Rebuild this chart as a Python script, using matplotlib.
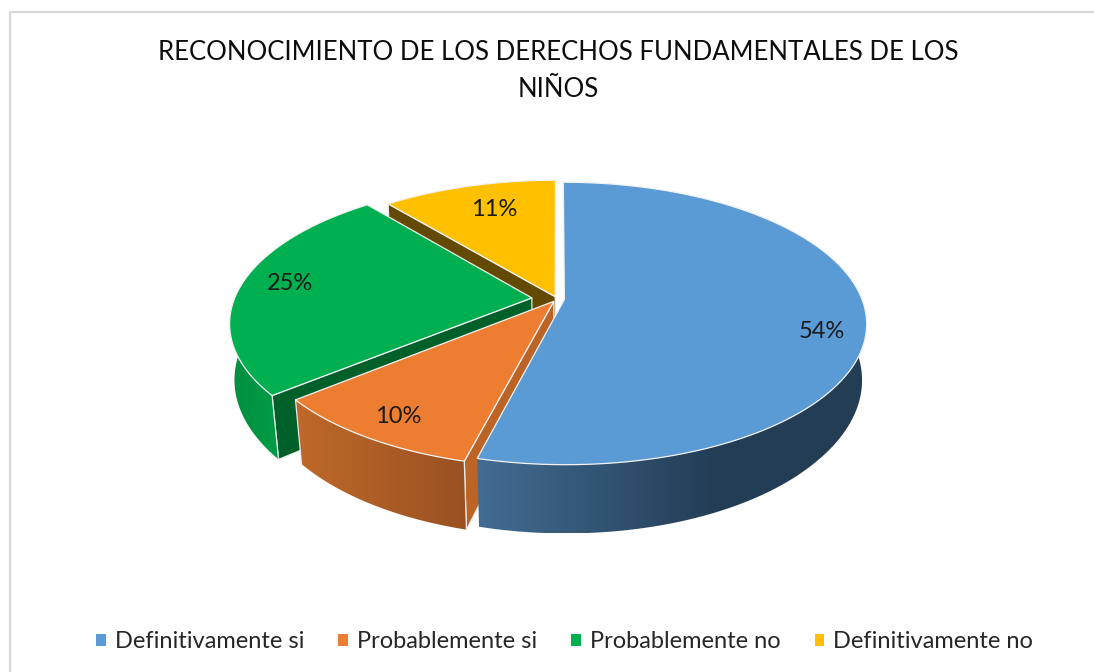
#!/usr/bin/env python3
# 3D looking pie, matplotlib has none so the projection is done by hand
import numpy as np
import matplotlib.pyplot as plt
from matplotlib.patches import Polygon, Patch
from matplotlib.colors import to_rgb

plt.rcParams['font.family'] = ['Lato', 'DejaVu Sans']

#%% data
title = "RECONOCIMIENTO DE LOS DERECHOS FUNDAMENTALES DE LOS\nNIÑOS"
categories = ['Definitivamente si', 'Probablemente si', 'Probablemente no', 'Definitivamente no']
values = [54, 10, 25, 11]

#%% styles
top_colors = ['#5B9BD5', '#ED7D31', '#00B050', '#FFC000']
radial_colors = [None, '#BC6426', '#00602A', '#634A00']
wall_left = ['#436C93', '#BF692B', '#008F40', '#997300']
wall_right = ['#233D55', '#9A5121', '#009C46', '#997300']
explode = [0.025, 0.02, 0.085, 0.018]
label_angle = [105, 212, 277, 342]
label_radius = [0.885, 0.88, 0.92, 0.77]

# projection of the ground plane to pixels
cx, cy = 557, 299
a, b = 297.5, 137
k = 0.17
depth = 57
shrink_front, shrink_side = 0.977, 0.988
seam = '#E8E8E8'


def top_xy(u, v):
    s = 1 / (1 + k * v)
    return cx + a * u * s, cy - b * v * s


def bottom_xy(u, v):
    s = 1 / (1 + k * v)
    shrink = shrink_front + (shrink_side - shrink_front) * np.clip(1 + v / 0.65, 0, 1)
    return cx + shrink * a * u * s, cy - b * v * s + depth * s


#%% figure
fig = plt.figure(figsize=(10.94, 6.72), dpi=100)
ax = fig.add_axes([0, 0, 1, 1])
ax.set_xlim(0, 1094)
ax.set_ylim(672, 0)
ax.set_autoscale_on(False)
ax.axis('off')

# frame of the chart, only left and top show up in the crop
ax.plot([9.5, 9.5, 1100], [680, 11.5, 11.5], color='#D9D9D9', lw=1.6)

ax.text(558.5, 71, title, ha='center', va='center', fontsize=18.55,
        color='#0D0D0D', linespacing=1.57)

fractions = np.array(values) / sum(values)
stops = np.concatenate([[0], np.cumsum(fractions)]) * 2 * np.pi

# painted back to front, images need an explicit zorder to stay in that order
z = 3
for i in [3, 2, 1, 0]:
    t0, t1 = stops[i], stops[i + 1]
    mid = (t0 + t1) / 2
    ou, ov = explode[i] * np.sin(mid), explode[i] * np.cos(mid)
    theta = np.linspace(t0, t1, 200)
    u = ou + np.sin(theta)
    v = ov + np.cos(theta)

    # radial wall facing the viewer
    if radial_colors[i] is not None:
        pts = [top_xy(ou, ov), top_xy(u[0], v[0]), bottom_xy(u[0], v[0]), bottom_xy(ou, ov)]
        ax.add_patch(Polygon(pts, closed=True, fc=radial_colors[i], ec=seam, lw=0.9, zorder=z))

    # outer wall with a gradient from left to right
    front = v < 0.1
    if front.sum() > 1:
        tu, tv = u[front], v[front]
        tx, ty = top_xy(tu, tv)
        bx, by = bottom_xy(tu, tv)
        outline = np.r_[np.c_[tx, ty], np.c_[bx, by][::-1]]
        x_lo = outline[:, 0].min()
        x_hi = outline[:, 0].max()
        x_end = min(x_hi, x_lo + 240)
        y_lo, y_hi = outline[:, 1].min(), outline[:, 1].max()
        xs = np.linspace(x_lo, x_hi, 256)
        f = np.clip((xs - x_lo) / (x_end - x_lo), 0, 1)[None, :, None]
        grad = np.array(to_rgb(wall_left[i]))[None, None, :] * (1 - f) \
            + np.array(to_rgb(wall_right[i]))[None, None, :] * f
        im = ax.imshow(grad, extent=(x_lo, x_hi, y_hi, y_lo), aspect='auto',
                       interpolation='bilinear', zorder=z + 1)
        clip = Polygon(outline, closed=True, fc='none', ec='none', zorder=z + 1)
        ax.add_patch(clip)
        im.set_clip_path(clip)
        # light seams at the corners of the wall
        corners = [0] if i != 1 else [0, len(tx) - 1]
        if front[0]:
            for c in corners:
                ax.plot([tx[c], bx[c]], [ty[c], by[c]], color=seam, lw=0.9, zorder=z + 2)

    # top face
    x, y = top_xy(np.r_[ou, u], np.r_[ov, v])
    ax.add_patch(Polygon(np.c_[x, y], closed=True, fc=top_colors[i], ec='#F2F2F2', lw=0.9, zorder=z + 3))
    z += 4

# percent labels
for i, val in enumerate(values):
    ang = np.radians(label_angle[i])
    lx, ly = top_xy(label_radius[i] * np.sin(ang), label_radius[i] * np.cos(ang))
    ax.text(lx, ly, f'{val}%', ha='center', va='center', fontsize=17, color='#1A1A1A', zorder=z)

handles = [Patch(fc=c, ec='none') for c in top_colors]
fig.legend(handles, categories, loc='center', bbox_to_anchor=(564.5 / 1094, 1 - 642 / 672),
           ncol=4, frameon=False, fontsize=17, handlelength=0.42, handleheight=0.42,
           handletextpad=0.38, columnspacing=1.44, labelcolor='#262626')

fig.savefig('out.png', dpi=100)
